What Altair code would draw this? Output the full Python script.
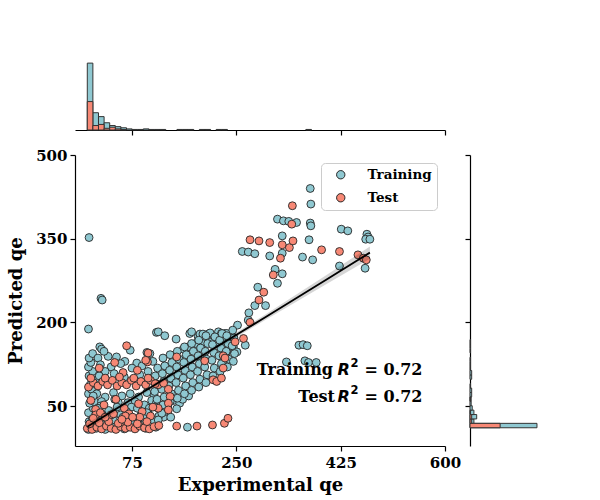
import altair as alt
import pandas as pd

# ---------------- values ----------------
train_points = [
    (3, 352), (23, 243), (25, 240), (2, 188), (21, 156), (24, 152),
    (116, 182), (119, 183), (130, 176), (149, 170), (167, 150), (172, 180), (175, 183), (186, 174),
    (189, 179), (194, 179), (203, 179), (206, 181), (220, 183), (231, 180), (234, 180), (245, 173),
    (161, 152), (169, 156), (181, 162), (194, 162), (206, 164), (220, 165), (228, 159), (239, 162),
    (225, 180), (228, 171), (237, 165), (231, 159), (245, 156), (251, 147), (234, 147), (265, 159),
    (252, 195), (270, 204), (271, 217), (281, 230), (299, 230), (286, 263), (319, 270), (327, 287), (315, 295),
    (260, 327), (270, 326), (281, 323), (306, 319), (327, 324), (361, 317), (378, 312), (423, 301), (466, 297),
    (327, 355), (372, 348), (319, 385), (329, 382), (338, 381), (351, 379), (374, 378), (375, 373),
    (375, 412), (374, 440), (426, 367), (437, 364), (469, 358), (471, 353), (467, 349), (474, 349),
    (355, 159), (362, 160), (369, 158), (334, 129), (365, 131), (371, 128), (384, 128),
    # dense block near the origin
    (2, 8), (6, 14), (3, 22), (8, 30), (2, 38), (10, 46), (4, 55), (9, 63), (2, 72), (7, 80),
    (3, 104), (9, 112), (2, 120), (6, 128), (3, 136), (9, 144), (12, 26), (12, 58), (12, 96), (5, 88),
    (18, 136), (35, 139), (49, 138), (63, 130), (83, 127), (100, 146), (105, 144), (28, 148), (72, 150),
    (22, 124), (40, 120), (56, 126), (75, 118), (92, 122), (110, 130), (30, 112),
    (20, 104), (45, 108), (62, 102), (88, 106), (102, 112),
    (16, 72), (30, 66), (44, 74), (58, 68), (72, 72), (86, 66), (100, 74), (112, 70),
    (24, 58), (52, 56), (80, 58), (96, 52), (108, 60),
    (10, 68), (22, 50), (34, 36), (46, 62), (56, 34), (68, 56), (74, 48), (90, 34), (104, 46),
    (116, 56), (128, 30), (135, 50), (145, 60), (155, 55), (160, 62), (170, 68),
    (18, 46), (36, 42), (50, 48), (66, 40), (84, 46), (100, 38), (120, 32), (130, 40),
    (26, 28), (44, 24), (60, 30), (78, 22), (94, 28), (112, 24), (125, 37), (119, 25), (140, 30), (150, 45),
    (15, 10), (30, 8), (45, 12), (62, 9), (80, 11), (98, 10), (115, 12), (168, 12),
    # rising cluster
    (115, 48), (117, 62), (113, 76), (116, 90), (114, 104), (118, 118),
    (127, 52), (129, 66), (125, 80), (128, 94), (126, 108), (130, 122), (127, 136),
    (139, 58), (141, 72), (137, 86), (140, 100), (138, 114), (142, 128), (139, 142),
    (151, 64), (153, 78), (149, 92), (152, 106), (150, 120), (154, 134), (151, 148),
    (163, 72), (165, 86), (161, 100), (164, 114), (162, 128), (166, 142), (163, 156),
    (175, 78), (177, 92), (173, 106), (176, 120), (174, 134), (178, 148), (175, 162),
    (187, 84), (189, 98), (185, 112), (188, 126), (186, 140), (190, 154), (187, 168),
    (199, 92), (201, 106), (197, 120), (200, 134), (198, 148), (202, 162), (199, 176),
    (211, 104), (213, 118), (209, 132), (212, 146), (210, 160), (214, 174),
    (223, 112), (225, 126), (221, 140), (224, 154), (222, 168), (226, 180),
    (235, 120), (237, 134), (233, 148), (236, 162), (234, 176),
    (245, 130), (247, 144), (243, 158), (246, 172), (244, 186),
]

test_points = [
    (344, 409), (343, 376), (273, 348), (288, 346), (306, 343), (327, 339), (339, 334), (345, 346),
    (324, 315), (393, 330), (423, 327), (454, 321), (463, 315), (468, 312), (312, 285), (296, 254),
    (288, 240), (273, 200), (262, 171), (248, 165),
    (150, 138), (197, 131), (228, 140), (231, 136), (228, 118), (211, 97), (217, 94), (225, 100),
    (119, 88), (128, 91), (136, 80), (139, 67), (136, 55), (136, 43), (119, 46),
    (66, 158), (102, 145), (101, 129), (20, 118), (46, 128), (60, 110), (84, 114), (98, 132),
    (6, 60), (14, 44), (28, 52), (40, 34), (48, 62), (62, 46), (70, 36), (86, 54), (92, 40), (110, 48),
    (14, 34), (22, 38), (44, 36), (64, 32), (88, 30), (106, 32),
    (2, 84), (10, 92), (18, 86), (26, 94), (34, 88), (42, 96), (50, 86), (58, 92), (66, 88), (74, 96),
    (82, 86), (90, 94), (98, 88), (106, 96), (114, 90), (6, 100), (30, 100), (54, 102), (78, 100), (102, 100),
    (0, 10), (8, 8), (16, 12), (24, 9), (32, 14), (40, 10), (48, 8), (56, 13), (64, 10), (72, 12),
    (80, 9), (88, 14), (96, 11), (104, 9), (112, 13), (4, 18), (20, 20), (36, 22), (52, 19), (68, 21),
    (84, 18), (100, 22), (10, 28), (30, 30), (58, 26), (76, 30), (120, 15),
    (150, 14), (184, 14), (210, 16), (230, 19), (236, 28),
]

# regression line and its confidence band
reg_x = [0, 100, 200, 300, 400, 474]
reg_y = [13, 79, 145, 210, 276, 325]
reg_lo = [7, 75, 141, 205, 268, 314]
reg_hi = [19, 83, 149, 215, 284, 336]

# marginal histograms (counts per bin)
top_bin_width = 9.4
top_train = [120, 31, 24, 13, 8, 6, 4, 2, 1, 1, 2, 1, 1, 1, 0, 0, 1, 1, 1, 0,
             1, 1, 0, 1, 1, 0, 0, 0, 0, 0, 0, 0, 0, 0, 0, 0, 0, 0, 0, 1]
top_test = [51, 8, 10, 3, 5, 2, 1] + [0] * 33

right_bin_start = 11
right_bin_width = 7.9
right_train = [120, 7, 12, 7, 4, 2, 2, 3, 3, 1, 0, 3, 3, 1, 1, 1, 0, 1, 1, 1]
right_test = [54, 3, 3, 1, 0, 0, 1, 0, 0, 0, 0, 0, 0, 0, 0, 0, 0, 0, 0, 0]

x_ticks = [75, 250, 425, 600]
y_ticks = [50, 200, 350, 500]

# ---------------- styling ----------------
TRAIN = "#8FC8D1"
TEST = "#F78875"
EDGE = "#262626"
SERIF = "DejaVu Serif"

rows = [{"x": x, "y": y, "set": "Training"} for x, y in train_points] + \
       [{"x": x, "y": y, "set": "Test"} for x, y in test_points]
df = pd.DataFrame(rows)
df["idx"] = range(len(df))

reg_df = pd.DataFrame({"x": reg_x, "y": reg_y, "lo": reg_lo, "hi": reg_hi})


def hist_df(counts, start, width):
    d = pd.DataFrame({"n": counts})
    d["b0"] = [start + i * width for i in range(len(counts))]
    d["b1"] = d["b0"] + width
    return d[d["n"] > 0]


xs = alt.Scale(domain=[-20.6, 600], nice=False, zero=False)
ys = alt.Scale(domain=[-21.7, 500], nice=False, zero=False)

x_axis = alt.Axis(values=x_ticks, title="Experimental qe", labelPadding=4, titlePadding=6,
                  labelFlush=False)
y_axis = alt.Axis(values=y_ticks, title="Predicted qe", labelPadding=3, titlePadding=10,
                  labelFlush=False)

X = alt.X("x:Q", scale=xs, axis=x_axis)
Y = alt.Y("y:Q", scale=ys, axis=y_axis)

points = alt.Chart(df).mark_circle(size=62, stroke=EDGE, strokeWidth=0.9, opacity=1).encode(
    x=X, y=Y,
    color=alt.Color(
        "set:N",
        scale=alt.Scale(domain=["Training", "Test"], range=[TRAIN, TEST]),
        legend=alt.Legend(
            title=None, orient="top-right", offset=8, padding=5,
            fillColor="white", strokeColor="#cccccc", cornerRadius=4,
            labelFont=SERIF, labelFontWeight="bold", labelFontSize=13.5, labelColor="black",
            symbolType="circle", symbolSize=70, symbolStrokeColor=EDGE, symbolStrokeWidth=1,
            symbolOpacity=1, symbolOffset=8, labelOffset=20, rowPadding=8,
        ),
    ),
    order=alt.Order("idx:Q"),
)

band = alt.Chart(reg_df).mark_area(color="black", opacity=0.16).encode(
    x=X, y=alt.Y("lo:Q", scale=ys, axis=y_axis), y2="hi:Q"
)
line = alt.Chart(reg_df).mark_line(color="black", strokeWidth=1.8).encode(x=X, y=Y)


def txt(s, x, y, size=16, font=SERIF, align="left", style="normal"):
    return alt.Chart(alt.Data(values=[{}])).mark_text(
        text=s, font=font, fontSize=size, fontWeight="bold", fontStyle=style,
        align=align, baseline="alphabetic", color="black",
    ).encode(x=alt.value(x), y=alt.value(y))


texts = [
    txt("Training", 258, 220, align="right"),
    txt("R", 262.5, 220, font="DejaVu Sans", style="italic"),
    txt("2", 275.5, 211.5, size=11.5, font="DejaVu Sans"),
    txt("= 0.72", 289.5, 220),
    txt("Test", 260, 247.3, align="right"),
    txt("R", 262.5, 247.3, font="DejaVu Sans", style="italic"),
    txt("2", 275.5, 238.8, size=11.5, font="DejaVu Sans"),
    txt("= 0.72", 289.5, 247.3),
]

main = alt.layer(points, band, line, *texts).properties(width=370, height=291)

top_axis = alt.Axis(values=x_ticks, labels=False, title=None)
top_layers = []
for counts, col in [(top_train, TRAIN), (top_test, TEST)]:
    top_layers.append(
        alt.Chart(hist_df(counts, 0, top_bin_width)).mark_rect(
            color=col, stroke="#333333", strokeWidth=1, opacity=1
        ).encode(
            x=alt.X("b0:Q", scale=xs, axis=top_axis),
            x2="b1:Q",
            y=alt.Y("n:Q", scale=alt.Scale(domain=[0, 122], nice=False), axis=None),
            y2=alt.datum(0),
        )
    )
top = alt.layer(*top_layers).properties(width=370, height=68)

right_axis = alt.Axis(values=y_ticks, labels=False, title=None)
right_layers = []
for counts, col in [(right_train, TRAIN), (right_test, TEST)]:
    right_layers.append(
        alt.Chart(hist_df(counts, right_bin_start, right_bin_width)).mark_rect(
            color=col, stroke="#333333", strokeWidth=1, opacity=1
        ).encode(
            y=alt.Y("b0:Q", scale=ys, axis=right_axis),
            y2="b1:Q",
            x=alt.X("n:Q", scale=alt.Scale(domain=[0, 129], nice=False), axis=None),
            x2=alt.datum(0),
        )
    )
right = alt.layer(*right_layers).properties(width=72, height=291)

chart = alt.vconcat(
    top,
    alt.hconcat(main, right, spacing=25, bounds="flush").resolve_legend(color="independent"),
    spacing=25, bounds="flush",
).resolve_legend(color="independent").properties(
    padding={"left": 7, "top": 62, "right": 5, "bottom": 5},
    background="white",
).configure_view(stroke=None).configure_axis(
    domainColor="black", domainWidth=1.2, tickColor="black", tickWidth=1.2, tickSize=5,
    grid=False, labelFont=SERIF, labelFontWeight="bold", labelFontSize=15, labelColor="black",
    titleFont=SERIF, titleFontWeight="bold", titleFontSize=18, titleColor="black",
)

chart.save("out.html", embed_options={"renderer": "svg", "actions": False})
